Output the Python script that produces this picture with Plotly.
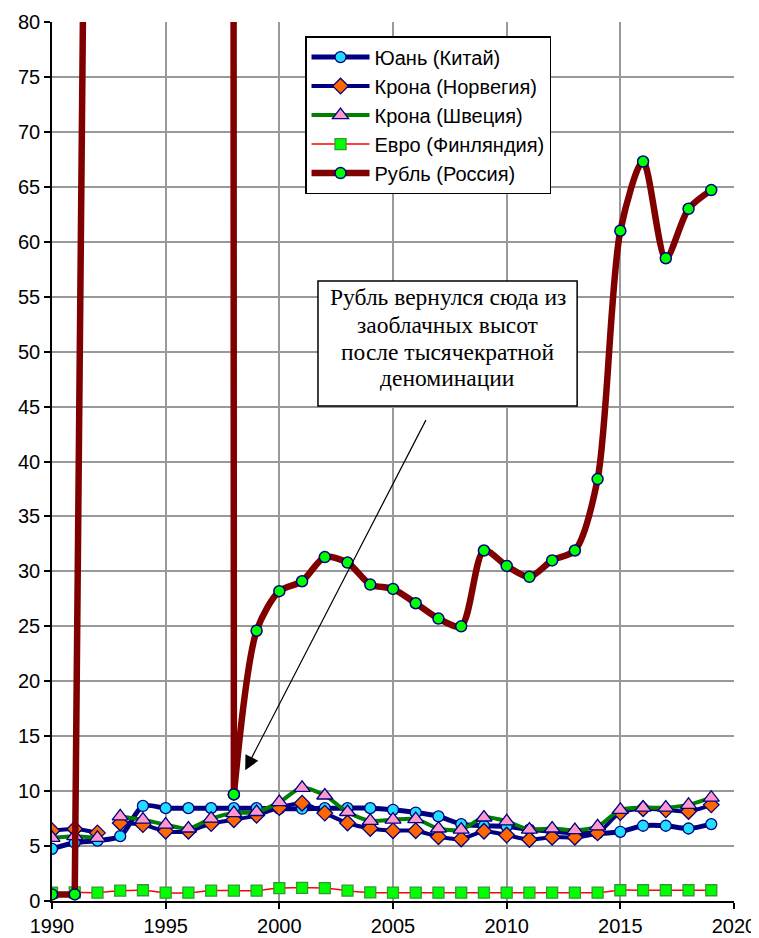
import plotly.graph_objects as go

years = list(range(1990, 2020))

yuan_china = [4.75, 5.3, 5.5, 5.9, 8.65, 8.45, 8.45, 8.45, 8.45, 8.45,
              8.4, 8.4, 8.45, 8.45, 8.45, 8.3, 8.05, 7.7, 7.0, 6.85,
              6.8, 6.5, 6.35, 6.2, 6.15, 6.3, 6.85, 6.85, 6.6, 7.0]

krone_norway = [6.4, 6.55, 6.2, 7.1, 6.95, 6.35, 6.35, 7.05, 7.4, 7.8,
                8.5, 8.9, 8.0, 7.1, 6.6, 6.4, 6.4, 5.85, 5.65, 6.35,
                6.0, 5.6, 5.8, 5.8, 6.2, 8.05, 8.4, 8.3, 8.15, 8.75]

krona_sweden = [5.75, 5.9, 5.75, 7.7, 7.4, 6.95, 6.6, 7.5, 8.0, 8.1,
                9.0, 10.3, 9.6, 8.1, 7.3, 7.4, 7.45, 6.6, 6.5, 7.6,
                7.25, 6.5, 6.6, 6.45, 6.8, 8.3, 8.5, 8.5, 8.75, 9.4]

euro_finland = [0.75, 0.78, 0.76, 0.94, 0.98, 0.76, 0.76, 0.94, 0.94, 0.94,
                1.18, 1.2, 1.18, 0.94, 0.78, 0.76, 0.76, 0.76, 0.76, 0.76,
                0.76, 0.76, 0.76, 0.76, 0.76, 0.98, 0.98, 0.98, 0.98, 0.98]

ruble_russia = [0.6, 0.6, 222, 933, 2191, 4559, 5121, 5785, 9.7, 24.6,
                28.2, 29.1, 31.3, 30.8, 28.8, 28.4, 27.1, 25.7, 25.0, 31.9,
                30.5, 29.5, 31.0, 31.9, 38.4, 61.0, 67.3, 58.5, 63.0, 64.7]

series_names = ["Юань (Китай)", "Крона (Норвегия)", "Крона (Швеция)",
                "Евро (Финляндия)", "Рубль (Россия)"]

x_ticks = [1990, 1995, 2000, 2005, 2010, 2015, 2020]
y_ticks = list(range(0, 85, 5))

annotation_lines = ["Рубль вернулся сюда из", "заоблачных высот",
                    "после тысячекратной", "деноминации"]

# index where the Nordic series restart (gap between 1992 and 1993)
nordic_break = 3
# index of the post-denomination ruble (1998)
ruble_break = 8

fig = go.Figure()

yuan_style = dict(line=dict(color="#000080", width=5, shape="spline", smoothing=0.8),
                  marker=dict(symbol="circle", size=11, color="#22DDFF",
                              line=dict(color="#000080", width=1.3)))
norway_style = dict(line=dict(color="#000080", width=4, shape="spline", smoothing=0.8),
                    marker=dict(symbol="diamond", size=12, color="#FF6600",
                                line=dict(color="#000080", width=1.3)))
sweden_style = dict(line=dict(color="#008000", width=4, shape="spline", smoothing=0.8),
                    marker=dict(symbol="triangle-up", size=14, color="#FF99CC",
                                line=dict(color="#000080", width=1.3)))
euro_style = dict(line=dict(color="#FF0000", width=1.5, shape="spline", smoothing=0.8),
                  marker=dict(symbol="square", size=11, color="#00FF00",
                              line=dict(color="#339933", width=1.3)))
ruble_marker = dict(symbol="circle", size=11, color="#00FF00",
                    line=dict(color="#000080", width=1.5))

fig.add_trace(go.Scatter(x=years, y=yuan_china, name=series_names[0],
                         mode="lines+markers", legendrank=1, **yuan_style))

fig.add_trace(go.Scatter(x=years[:nordic_break], y=krone_norway[:nordic_break],
                         name=series_names[1], mode="lines+markers",
                         showlegend=False, legendgroup="no", **norway_style))
fig.add_trace(go.Scatter(x=years[nordic_break:], y=krone_norway[nordic_break:],
                         name=series_names[1], mode="lines+markers",
                         legendgroup="no", legendrank=2, **norway_style))

fig.add_trace(go.Scatter(x=years[:nordic_break], y=krona_sweden[:nordic_break],
                         name=series_names[2], mode="lines+markers",
                         showlegend=False, legendgroup="se", **sweden_style))
fig.add_trace(go.Scatter(x=years[nordic_break:], y=krona_sweden[nordic_break:],
                         name=series_names[2], mode="lines+markers",
                         legendgroup="se", legendrank=3, **sweden_style))

fig.add_trace(go.Scatter(x=years, y=euro_finland, name=series_names[3],
                         mode="lines+markers", legendrank=4, **euro_style))

fig.add_trace(go.Scatter(x=years[:ruble_break + 1], y=ruble_russia[:ruble_break + 1],
                         name=series_names[4], mode="lines+markers",
                         showlegend=False, legendgroup="ru",
                         line=dict(color="#800000", width=6.5, shape="linear"),
                         marker=ruble_marker))
fig.add_trace(go.Scatter(x=years[ruble_break:], y=ruble_russia[ruble_break:],
                         name=series_names[4], mode="lines+markers",
                         legendgroup="ru", legendrank=5,
                         line=dict(color="#800000", width=6.5, shape="spline", smoothing=0.8),
                         marker=ruble_marker))

# callout box
fig.add_shape(type="rect", xref="paper", yref="paper",
              x0=0.390, x1=0.770, y0=0.5631, y1=0.7053,
              line=dict(color="black", width=1.5), fillcolor="white", layer="above")
line_y = [0.6871, 0.6553, 0.6246, 0.5950]
for txt, yy in zip(annotation_lines, line_y):
    fig.add_annotation(xref="paper", yref="paper", x=0.58, y=yy,
                       xanchor="center", yanchor="middle", text=txt, showarrow=False,
                       font=dict(family="Liberation Serif, Times New Roman, serif",
                                 size=23.5, color="black"))

fig.add_annotation(
    x=1998.5, y=11.9, xref="x", yref="y",
    ax=2006.48, ay=43.9, axref="x", ayref="y",
    text="", showarrow=True, arrowhead=2, arrowsize=2.4, arrowwidth=1.2,
    arrowcolor="black",
)

axis_common = dict(
    showgrid=True, gridcolor="#999999", gridwidth=1.5,
    showline=True, linecolor="black", linewidth=1.5,
    ticks="outside", ticklen=6, tickcolor="black", tickwidth=1.5,
    zeroline=False, automargin=False,
    tickfont=dict(family="Liberation Sans, Arial, sans-serif", size=20, color="black"),
)

fig.update_layout(
    width=759, height=938,
    margin=dict(l=44, r=33, t=14, b=45),
    paper_bgcolor="white", plot_bgcolor="white",
    xaxis=dict(range=[1990, 2020], tickvals=x_ticks, **axis_common),
    yaxis=dict(range=[0, 80], tickvals=y_ticks, **axis_common),
    legend=dict(
        x=0.371, y=0.984, xanchor="left", yanchor="top",
        bgcolor="white", bordercolor="black", borderwidth=1.5,
        font=dict(family="Liberation Sans, Arial, sans-serif", size=20, color="black"),
        itemwidth=58, tracegroupgap=0,
        entrywidth=190, entrywidthmode="pixels",
    ),
    showlegend=True,
)

fig.write_html("out.html")
